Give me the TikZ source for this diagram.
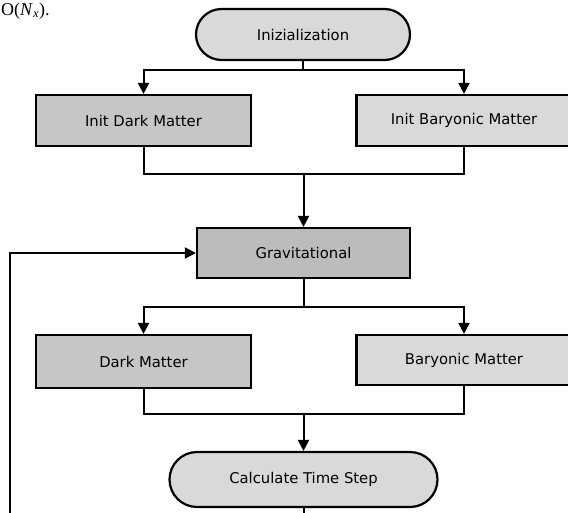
\documentclass[tikz,border=0pt]{standalone}
\usepackage{fontspec}
\setmainfont{DejaVu Sans}
\newfontfamily\seriffont{Liberation Serif}
\usetikzlibrary{arrows.meta,shapes.misc}
\definecolor{lightfill}{HTML}{D9D9D9}
\definecolor{darkfill}{HTML}{C6C6C6}
\definecolor{gravfill}{HTML}{BCBCBC}
\begin{document}
\begin{tikzpicture}[x=1pt,y=-1pt,
  boxbase/.style={draw=black,line width=2.2pt,font=\fontsize{14.8}{16}\selectfont,inner sep=0pt},
  procbox/.style={boxbase,rectangle,minimum width=215pt,minimum height=51pt},
  termbox/.style={boxbase,rounded rectangle,fill=lightfill},
  conn/.style={line width=2pt},
  arr/.style={conn,-{Triangle[width=11pt,length=11pt]}}]
\useasboundingbox (0,0) rectangle (568,512);
\clip (0,0) rectangle (568,512);
\node[anchor=base west,inner sep=0pt,font=\seriffont\fontsize{18}{20}\selectfont] (otext) at (1,15) {O(\textit{N}\textsubscript{\textit{x}}).};
\node[termbox,minimum width=214pt,minimum height=51pt] (init) at (303,34.5) {Inizialization};
\node[procbox,fill=darkfill] (idm) at (143.5,120.5) {Init Dark Matter};
\node[procbox,fill=lightfill] (ibm) at (464,120.5) {Init Baryonic Matter};
\node[procbox,fill=gravfill,minimum width=213pt,minimum height=50pt] (grav) at (303.5,253) {Gravitational};
\node[procbox,fill=darkfill,minimum height=53pt] (dm) at (143.5,361.5) {Dark Matter};
\node[procbox,fill=lightfill,minimum height=50pt] (bm) at (464,360) {Baryonic Matter};
\node[termbox,minimum width=268pt,minimum height=55pt] (calc) at (303.5,479.5) {Calculate Time Step};
\coordinate (s1) at (303.5,70);
\coordinate (j1) at (303.5,174);
\coordinate (s2) at (303.5,307);
\coordinate (j2) at (303.5,414);
\coordinate (loopbot) at (10,530);
\coordinate (calcbot) at (303.5,530);
% top split
\draw[conn] (init.south) |- (s1);
\draw[arr] (s1) -| (idm.north);
\draw[arr] (s1) -| (ibm.north);
% join to gravitational
\draw[conn] (idm.south) |- (j1) -| (ibm.south);
\draw[arr] (j1) -- (grav.north);
% second split
\draw[conn] (grav.south) |- (s2);
\draw[arr] (s2) -| (dm.north);
\draw[arr] (s2) -| (bm.north);
% join to time step
\draw[conn] (dm.south) |- (j2) -| (bm.south);
\draw[arr] (j2) -- (calc.north);
% loop
\draw[conn] (calc.south) -- (calcbot);
\draw[arr] (loopbot) |- (grav.west);
\end{tikzpicture}
\end{document}
